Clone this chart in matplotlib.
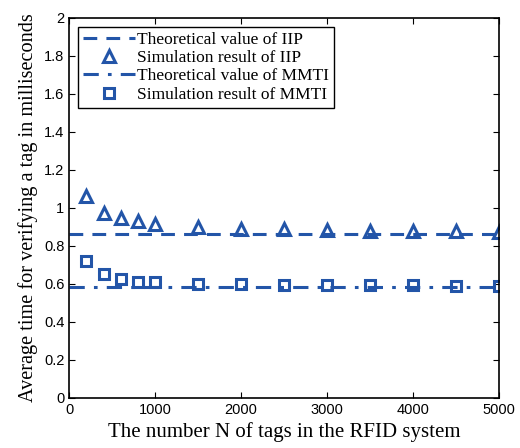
import matplotlib
matplotlib.use('Agg')
import matplotlib.pyplot as plt
import numpy as np

# data
n_tags = [200, 400, 600, 800, 1000, 1500, 2000, 2500, 3000, 3500, 4000, 4500, 5000]
sim_iip = [1.061, 0.975, 0.947, 0.930, 0.914, 0.900, 0.891, 0.888, 0.882, 0.879, 0.879, 0.877, 0.875]
sim_mmti = [0.721, 0.654, 0.626, 0.612, 0.610, 0.600, 0.597, 0.595, 0.594, 0.593, 0.592, 0.591, 0.591]
theo_x = [0, 5000]
theo_iip = [0.863, 0.863]
theo_mmti = [0.581, 0.581]

blue = '#2355a8'

fig = plt.figure(figsize=(5.2, 4.48), dpi=100)
ax = fig.add_axes([0.133, 0.112, 0.827, 0.848])

ax.plot(theo_x, theo_iip, '--', color=blue, lw=2.2, dashes=(4.5, 3), label='Theoretical value of IIP')
ax.plot(n_tags, sim_iip, '^', color=blue, ms=9, mfc='none', mew=2.2, ls='none', label='Simulation result of IIP')
ax.plot(theo_x, theo_mmti, '-.', color=blue, lw=2.2, dashes=(5, 3, 1.2, 3), label='Theoretical value of MMTI')
ax.plot(n_tags, sim_mmti, 's', color=blue, ms=7, mfc='none', mew=2.2, ls='none', label='Simulation result of MMTI')

ax.set_xlim(0, 5000)
ax.set_ylim(0, 2)
ax.set_xticks(np.arange(0, 5001, 1000))
yt = np.round(np.arange(0, 2.01, 0.2), 1)
ax.set_yticks(yt)
ax.set_yticklabels(['%g' % v for v in yt])
ax.tick_params(direction='in', top=True, right=True, length=4, labelsize=10.5)
for lab in ax.get_xticklabels() + ax.get_yticklabels():
    lab.set_family('Liberation Sans')
for s in ax.spines.values():
    s.set_linewidth(1.2)

ax.set_xlabel('The number N of tags in the RFID system', family='Liberation Serif', fontsize=15)
ax.set_ylabel('Average time for verifying a tag in milliseconds', family='Liberation Serif', fontsize=14.6)

leg = ax.legend(loc='upper left', prop={'family': 'Liberation Serif', 'size': 12.5},
                fancybox=False, edgecolor='black', framealpha=1, handlelength=3.0,
                handletextpad=0.1, borderpad=0.3, labelspacing=0.12, borderaxespad=0.5)
leg.get_frame().set_linewidth(1.0)

fig.savefig('out.png', dpi=100)
